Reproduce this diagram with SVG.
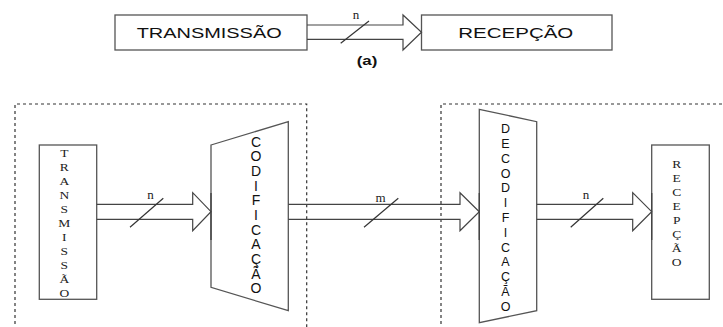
<svg xmlns="http://www.w3.org/2000/svg" width="723" height="327" viewBox="0 0 723 327">
<style>
.box{fill:none;stroke:#555;stroke-width:1.3}
.dash{fill:none;stroke:#333;stroke-width:1.2;stroke-dasharray:3,3}
.arr{fill:none;stroke:#444;stroke-width:1.2}
.sl{stroke:#333;stroke-width:1.2}
.tick{stroke:#444;stroke-width:1.4}
.hl{font-family:"Liberation Sans",Arial,sans-serif;font-size:14px;fill:#111}
.vs{font-family:"Liberation Serif","Times New Roman",serif;font-size:10px;fill:#222;text-anchor:middle}
.vb{font-family:"Liberation Sans",Arial,sans-serif;fill:#111;text-anchor:middle}
.lbl{font-family:"Liberation Serif","Times New Roman",serif;font-size:13px;fill:#222;text-anchor:middle}
</style>
<rect width="723" height="327" fill="#fff"/>
<g id="dashed-frames">
<path class="dash" d="M15,330 V104 H306.7 V330"/>
<path class="dash" d="M441,330 V104 H726"/>
</g>
<g id="top-transmissao">
<rect class="box" x="115" y="15" width="192" height="35"/>
<text class="hl" x="136.7" y="38.3" textLength="145" lengthAdjust="spacingAndGlyphs">TRANSMISSÃO</text>
</g>
<g id="top-recepcao">
<rect class="box" x="421.5" y="15" width="190.5" height="35"/>
<text class="hl" x="458.3" y="38.3" textLength="115" lengthAdjust="spacingAndGlyphs">RECEPÇÃO</text>
</g>
<text id="caption-a" x="356.7" y="64.5" font-family="Liberation Sans, Arial, sans-serif" font-size="12" font-weight="bold" fill="#111" textLength="20.6" lengthAdjust="spacingAndGlyphs">(a)</text>
<g id="transmissao">
<rect class="box" x="39.3" y="145" width="57.4" height="154.3"/>
<g transform="translate(64.3,0) scale(1.35,1)">
<text class="vs" x="0" y="156.8">T</text>
<text class="vs" x="0" y="170.9">R</text>
<text class="vs" x="0" y="184.9">A</text>
<text class="vs" x="0" y="199">N</text>
<text class="vs" x="0" y="213.1">S</text>
<text class="vs" x="0" y="227.2">M</text>
<text class="vs" x="0" y="241.2">I</text>
<text class="vs" x="0" y="255.3">S</text>
<text class="vs" x="0" y="269.4">S</text>
<text class="vs" x="0" y="283.4">Ã</text>
<text class="vs" x="0" y="297.5">O</text>
</g>
</g>
<g id="codificacao">
<path class="box" d="M211,145 L288.3,121.7 L288.3,310.7 L211,287.3 Z"/>
<text class="vb" font-size="14" x="256" y="146.7">C</text>
<text class="vb" font-size="14" x="256" y="161.4">O</text>
<text class="vb" font-size="14" x="256" y="176">D</text>
<text class="vb" font-size="14" x="256" y="190.7">I</text>
<text class="vb" font-size="14" x="256" y="205.4">F</text>
<text class="vb" font-size="14" x="256" y="220">I</text>
<text class="vb" font-size="14" x="256" y="234.7">C</text>
<text class="vb" font-size="14" x="256" y="249.4">A</text>
<text class="vb" font-size="14" x="256" y="264">Ç</text>
<text class="vb" font-size="14" x="256" y="278.7">Ã</text>
<text class="vb" font-size="14" x="256" y="293.3">O</text>
</g>
<g id="decodificacao">
<path class="box" d="M479.3,109.3 L536.7,121.7 L536.7,310.7 L479.3,322.7 Z"/>
<text class="vb" font-size="12.5" x="505.5" y="133.3">D</text>
<text class="vb" font-size="12.5" x="505.5" y="148.1">E</text>
<text class="vb" font-size="12.5" x="505.5" y="162.9">C</text>
<text class="vb" font-size="12.5" x="505.5" y="177.6">O</text>
<text class="vb" font-size="12.5" x="505.5" y="192.4">D</text>
<text class="vb" font-size="12.5" x="505.5" y="207.2">I</text>
<text class="vb" font-size="12.5" x="505.5" y="222">F</text>
<text class="vb" font-size="12.5" x="505.5" y="236.8">I</text>
<text class="vb" font-size="12.5" x="505.5" y="251.6">C</text>
<text class="vb" font-size="12.5" x="505.5" y="266.3">A</text>
<text class="vb" font-size="12.5" x="505.5" y="281.1">Ç</text>
<text class="vb" font-size="12.5" x="505.5" y="295.9">Ã</text>
<text class="vb" font-size="12.5" x="505.5" y="310.7">O</text>
</g>
<g id="recepcao">
<rect class="box" x="651.7" y="145" width="57.6" height="154.3"/>
<g transform="translate(676.7,0) scale(1.35,1)">
<text class="vs" x="0" y="168.5">R</text>
<text class="vs" x="0" y="182.4">E</text>
<text class="vs" x="0" y="196.4">C</text>
<text class="vs" x="0" y="210.3">E</text>
<text class="vs" x="0" y="224.2">P</text>
<text class="vs" x="0" y="238.2">Ç</text>
<text class="vs" x="0" y="252.1">Ã</text>
<text class="vs" x="0" y="266">O</text>
</g>
</g>
<g id="connectors">
<path class="arr" d="M307,25 H403 V15 L421.5,32.2 L403,50 V39.3 H307"/>
<line class="sl" x1="340.7" y1="43.3" x2="369" y2="21"/>
<text class="lbl" x="356" y="18.5">n</text>
<path class="arr" d="M96.7,204.3 H192.7 V192.7 L211,211.7 L192.7,230.7 V219.3 H96.7"/>
<line class="sl" x1="130" y1="227.3" x2="163.3" y2="198.3"/>
<text class="lbl" x="150.5" y="198.5">n</text>
<path class="arr" d="M288.3,204.3 H460 V192.7 L479.3,211.7 L460,230.7 V219.3 H288.3"/>
<line class="sl" x1="364" y1="227.3" x2="398.3" y2="198.3"/>
<text class="lbl" x="380.5" y="201.5">m</text>
<path class="arr" d="M536.7,204.3 H632.7 V192.7 L651.7,211.7 L632.7,230.7 V219.3 H536.7"/>
<line class="sl" x1="570.7" y1="227.3" x2="603.3" y2="198.3"/>
<text class="lbl" x="586" y="198.8">n</text>
<line class="tick" x1="211" y1="193" x2="211" y2="240"/>
<line class="tick" x1="479.3" y1="193" x2="479.3" y2="240"/>
<line class="tick" x1="651.7" y1="193" x2="651.7" y2="240"/>
</g>
</svg>
